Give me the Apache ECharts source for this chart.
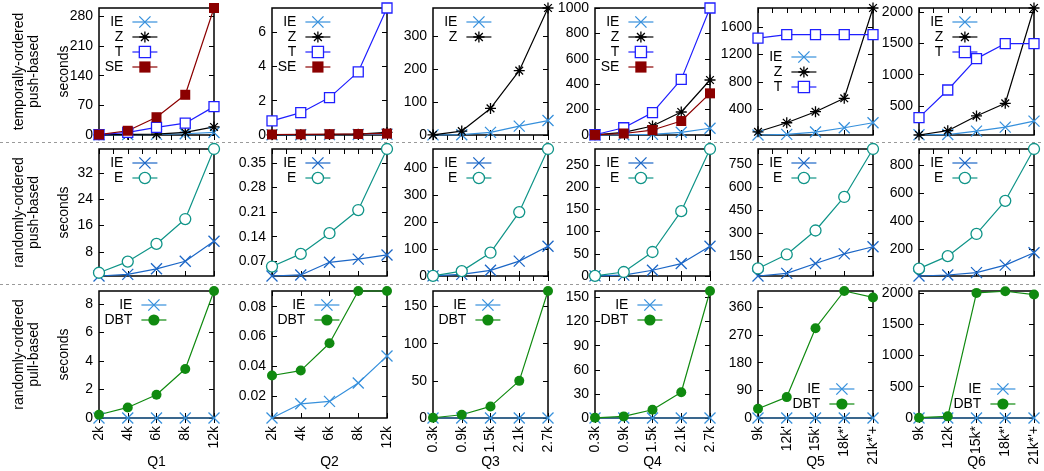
<!DOCTYPE html>
<html>
<head>
<meta charset="utf-8">
<script src="https://cdn.jsdelivr.net/npm/echarts@6/dist/echarts.min.js"></script>
<style>
html, body { margin: 0; padding: 0; background: #fff; }
#main { width: 1044px; height: 471px; }
</style>
</head>
<body>
<div id="main"></div>
<script>
// x categories per query
var q1Cats = ['2k', '4k', '6k', '8k', '12k'];
var q2Cats = ['2k', '4k', '6k', '8k', '12k'];
var q3Cats = ['0.3k', '0.9k', '1.5k', '2.1k', '2.7k'];
var q4Cats = ['0.3k', '0.9k', '1.5k', '2.1k', '2.7k'];
var q5Cats = ['9k', "12k'", "15k'", "18k*'", "21k*'+"];
var q6Cats = ['9k', '12k', '15k*', "18k*'", "21k*'+"];

// row 1: temporally-ordered push-based
var r1q1IE = [0.5, 1, 1.5, 3, 6];
var r1q1Z = [0.5, 1.5, 2, 6, 19];
var r1q1T = [1, 6, 18, 28, 67];
var r1q1SE = [1, 10, 42, 95, 300];
var r1q2IE = [0.01, 0.01, 0.02, 0.03, 0.04];
var r1q2Z = [0.01, 0.02, 0.03, 0.05, 0.15];
var r1q2T = [0.82, 1.3, 2.18, 3.68, 7.4];
var r1q2SE = [0.03, 0.04, 0.05, 0.06, 0.08];
var r1q3IE = [0.5, 1, 8, 27, 44];
var r1q3Z = [0.5, 12, 81, 196, 387];
var r1q4IE = [1, 2, 5, 21, 53];
var r1q4Z = [1, 20, 71, 181, 433];
var r1q4T = [2, 57, 176, 438, 1000];
var r1q4SE = [1, 12, 39, 110, 328];
var r1q5IE = [25, 34, 68, 131, 204];
var r1q5Z = [72, 204, 365, 561, 1880];
var r1q5T = [1440, 1490, 1490, 1490, 1490];
var r1q6IE = [40, 42, 97, 161, 257];
var r1q6Z = [35, 104, 340, 543, 2069];
var r1q6T = [313, 756, 1258, 1500, 1500];

// row 2: randomly-ordered push-based
var r2q1IE = [0.6, 1.1, 2.8, 5.1, 11.2];
var r2q1E = [1.6, 5.0, 10.4, 18.0, 39.4];
var r2q2IE = [0.028, 0.031, 0.067, 0.076, 0.088];
var r2q2E = [0.055, 0.091, 0.15, 0.216, 0.39];
var r2q3IE = [0.5, 6, 21, 55, 110];
var r2q3E = [0.5, 18, 86, 236, 469];
var r2q4IE = [0.3, 2, 13, 28, 67];
var r2q4E = [0.3, 9, 54, 146, 286];
var r2q5IE = [21, 38, 102, 165, 211];
var r2q5E = [70, 161, 317, 535, 847];
var r2q6IE = [10, 17, 34, 88, 176];
var r2q6E = [63, 152, 311, 548, 919];

// row 3: randomly-ordered pull-based
var r3q1IE = [0, 0, 0, 0, 0];
var r3q1DBT = [0.23, 0.74, 1.63, 3.43, 8.9];
var r3q2IE = [0.0056, 0.0151, 0.0167, 0.029, 0.047];
var r3q2DBT = [0.034, 0.0373, 0.0556, 0.0905, 0.0905];
var r3q3IE = [0, 0, 0, 0, 0];
var r3q3DBT = [0.3, 4.4, 15.6, 50, 171];
var r3q4IE = [0, 0, 0, 0, 0];
var r3q4DBT = [0.2, 2, 10.3, 32, 158];
var r3q5IE = [0, 0, 0, 0, 0];
var r3q5DBT = [30, 68, 292, 413, 392];
var r3q6IE = [0, 0, 0, 0, 0];
var r3q6DBT = [5, 26, 2000, 2026, 1973];

// y tick labels and extents
var r1Ticks = [[0, 70, 140, 210, 280], [0, 2, 4, 6], [0, 100, 200, 300], [0, 200, 400, 600, 800, 1000], [400, 800, 1200, 1600], [500, 1000, 1500, 2000]];
var r2Ticks = [[8, 16, 24, 32], [0.07, 0.14, 0.21, 0.28, 0.35], [0, 100, 200, 300, 400], [0, 50, 100, 150, 200, 250], [150, 300, 450, 600, 750], [200, 400, 600, 800]];
var r3Ticks = [[0, 2, 4, 6, 8], [0.02, 0.04, 0.06, 0.08], [0, 50, 100, 150], [0, 30, 60, 90, 120, 150], [0, 90, 180, 270, 360], [0, 500, 1000, 1500, 2000]];
var r1Min = [0, 0, 0, 0, 25, 35];
var r1Max = [300, 7.4, 387, 1000, 1880, 2069];
var r2Min = [0.6, 0.028, 0, 0, 21, 10];
var r2Max = [39.4, 0.39, 469, 286, 847, 919];
var r3Min = [0, 0.0056, 0, 0, 0, 0];
var r3Max = [8.9, 0.0905, 171, 158, 413, 2030];

var rowLabels = ['temporally-ordered\npush-based', 'randomly-ordered\npush-based', 'randomly-ordered\npull-based'];
var qNames = ['Q1', 'Q2', 'Q3', 'Q4', 'Q5', 'Q6'];

// layout
var W = 1044;
var FONT = '"Liberation Sans", Arial, Helvetica, sans-serif';
var gridLefts = [99, 272, 433, 595, 758, 919];
var gridTops = [8, 149, 291];
var gridW = 115, gridH = 127;

var crossPath = 'path://M0,0L10,10M10,0L0,10';
var starPath = 'path://M5,0L5,10M0,5L10,5M1.5,1.5L8.5,8.5M8.5,1.5L1.5,8.5';
var styles = {
    IE:  { color: '#3690dc', symbol: crossPath, size: 11, fill: null },
    IE2: { color: '#1b66c6', symbol: crossPath, size: 11, fill: null },
    Z:   { color: '#000000', symbol: starPath, size: 11, fill: null },
    T:   { color: '#1f1fff', symbol: 'rect', size: 10, fill: '#ffffff' },
    SE:  { color: '#8b0000', symbol: 'rect', size: 10, fill: '#8b0000' },
    E:   { color: '#0f9488', symbol: 'circle', size: 11, fill: '#ffffff' },
    DBT: { color: '#108a10', symbol: 'circle', size: 10, fill: '#108a10' }
};

// panels: [name, styleKey, data]
var panels = [
    [['IE', 'IE', r1q1IE], ['Z', 'Z', r1q1Z], ['T', 'T', r1q1T], ['SE', 'SE', r1q1SE]],
    [['IE', 'IE', r1q2IE], ['Z', 'Z', r1q2Z], ['T', 'T', r1q2T], ['SE', 'SE', r1q2SE]],
    [['IE', 'IE', r1q3IE], ['Z', 'Z', r1q3Z]],
    [['IE', 'IE', r1q4IE], ['Z', 'Z', r1q4Z], ['T', 'T', r1q4T], ['SE', 'SE', r1q4SE]],
    [['IE', 'IE', r1q5IE], ['Z', 'Z', r1q5Z], ['T', 'T', r1q5T]],
    [['IE', 'IE', r1q6IE], ['Z', 'Z', r1q6Z], ['T', 'T', r1q6T]],
    [['IE', 'IE2', r2q1IE], ['E', 'E', r2q1E]],
    [['IE', 'IE2', r2q2IE], ['E', 'E', r2q2E]],
    [['IE', 'IE2', r2q3IE], ['E', 'E', r2q3E]],
    [['IE', 'IE2', r2q4IE], ['E', 'E', r2q4E]],
    [['IE', 'IE2', r2q5IE], ['E', 'E', r2q5E]],
    [['IE', 'IE2', r2q6IE], ['E', 'E', r2q6E]],
    [['IE', 'IE', r3q1IE], ['DBT', 'DBT', r3q1DBT]],
    [['IE', 'IE', r3q2IE], ['DBT', 'DBT', r3q2DBT]],
    [['IE', 'IE', r3q3IE], ['DBT', 'DBT', r3q3DBT]],
    [['IE', 'IE', r3q4IE], ['DBT', 'DBT', r3q4DBT]],
    [['IE', 'IE', r3q5IE], ['DBT', 'DBT', r3q5DBT]],
    [['IE', 'IE', r3q6IE], ['DBT', 'DBT', r3q6DBT]]
];
var catsByCol = [q1Cats, q2Cats, q3Cats, q4Cats, q5Cats, q6Cats];
var ticksByRow = [r1Ticks, r2Ticks, r3Ticks];
var minByRow = [r1Min, r2Min, r3Min];
var maxByRow = [r1Max, r2Max, r3Max];

// legend placement: [iconRight, top]
function legendPos(r, c) {
    var gl = gridLefts[c], gt = gridTops[r];
    if (r === 0 && c === 4) return [gl + 59, 50];
    if (r === 2 && c >= 4) return [gl + gridW - 18, 382];
    return [gl + (r === 2 ? 68 : 59), gt + 7];
}

var grids = [], xAxes = [], yAxes = [], series = [], legends = [], graphics = [];
var tickStyle = { show: true, inside: true, length: 5, lineStyle: { color: '#000', width: 1 } };

for (var g = 0; g < 18; g++) {
    var r = Math.floor(g / 6), c = g % 6;
    grids.push({
        left: gridLefts[c], top: gridTops[r], width: gridW, height: gridH,
        show: true, borderColor: '#000', borderWidth: 1.5, backgroundColor: 'transparent',
        containLabel: false, outerBoundsMode: 'none'
    });
    xAxes.push({
        type: 'category', gridIndex: g, position: 'bottom', data: catsByCol[c], boundaryGap: false,
        axisLine: { show: false }, splitLine: { show: false },
        axisTick: Object.assign({ interval: 0 }, tickStyle),
        axisLabel: { show: r === 2, interval: 0, rotate: 90, margin: 8, fontSize: 14, fontFamily: FONT, color: '#000' },
        name: r === 2 ? qNames[c] : '', nameLocation: 'middle', nameGap: 37, nameMoveOverlap: false,
        nameTextStyle: { fontSize: 14, fontFamily: FONT, color: '#000' }
    });
    xAxes.push({
        type: 'value', gridIndex: g, position: 'top', min: 0, max: 4, interval: r < 2 ? 0.5 : 1,
        axisLine: { show: false }, splitLine: { show: false }, axisLabel: { show: false },
        axisTick: tickStyle
    });
    var ticks = ticksByRow[r][c];
    var yBase = {
        type: 'value', gridIndex: g, min: minByRow[r][c], max: maxByRow[r][c],
        axisLine: { show: false }, splitLine: { show: false },
        axisTick: Object.assign({ customValues: ticks }, tickStyle)
    };
    yAxes.push(Object.assign({}, yBase, {
        position: 'left',
        axisLabel: {
            customValues: ticks, margin: 6, fontSize: 14, fontFamily: FONT, color: '#000',
            formatter: function (v) { return String(v); }
        },
        name: c === 0 ? 'seconds' : '', nameLocation: 'middle', nameGap: 28, nameRotate: 90,
        nameMoveOverlap: false,
        nameTextStyle: { fontSize: 14, fontFamily: FONT, color: '#000' }
    }));
    yAxes.push(Object.assign({}, yBase, { position: 'right', axisLabel: { show: false } }));

    var legendData = [];
    panels[g].forEach(function (p) {
        var st = styles[p[1]];
        var filled = st.fill === st.color;
        series.push({
            type: 'line', name: p[0], data: p[2], xAxisIndex: 2 * g, yAxisIndex: 2 * g,
            symbol: st.symbol, symbolSize: st.size, showSymbol: true, showAllSymbol: true,
            clip: false, animation: false, silent: true,
            lineStyle: { color: st.color, width: 1.2 },
            itemStyle: { color: st.fill || st.color, borderColor: st.color, borderWidth: filled ? 0 : 1.3 }
        });
        legendData.push({
            name: p[0],
            itemStyle: { color: st.fill || st.color, borderColor: st.color, borderWidth: filled ? 0 : 1.3 },
            lineStyle: { color: st.color, width: 1.2 }
        });
    });
    var lp = legendPos(r, c);
    legends.push({
        orient: 'vertical', align: 'right', padding: 0, itemGap: 1, itemWidth: 25, itemHeight: 14,
        right: W - lp[0], top: lp[1], selectedMode: false,
        textStyle: { fontSize: 14, fontFamily: FONT, color: '#000', lineHeight: 14, padding: [0, 4, 0, 0] },
        data: legendData
    });
}

// row separators and row titles
[142.5, 284.5].forEach(function (y) {
    graphics.push({
        type: 'line', shape: { x1: 0, y1: y, x2: W, y2: y },
        style: { stroke: '#9a9a9a', lineWidth: 1, lineDash: [3, 3] }, silent: true
    });
});
rowLabels.forEach(function (t, i) {
    graphics.push({
        type: 'text', x: 27, y: gridTops[i] + gridH / 2, rotation: Math.PI / 2, silent: true,
        style: { text: t, fontSize: 14, fontFamily: FONT, fill: '#000', align: 'center', verticalAlign: 'middle', lineHeight: 15 }
    });
});

var myChart = echarts.init(document.getElementById('main'), null, { renderer: 'canvas' });
myChart.setOption({
    animation: false,
    backgroundColor: '#fff',
    grid: grids,
    xAxis: xAxes,
    yAxis: yAxes,
    legend: legends,
    series: series,
    graphic: graphics
});
</script>
</body>
</html>
